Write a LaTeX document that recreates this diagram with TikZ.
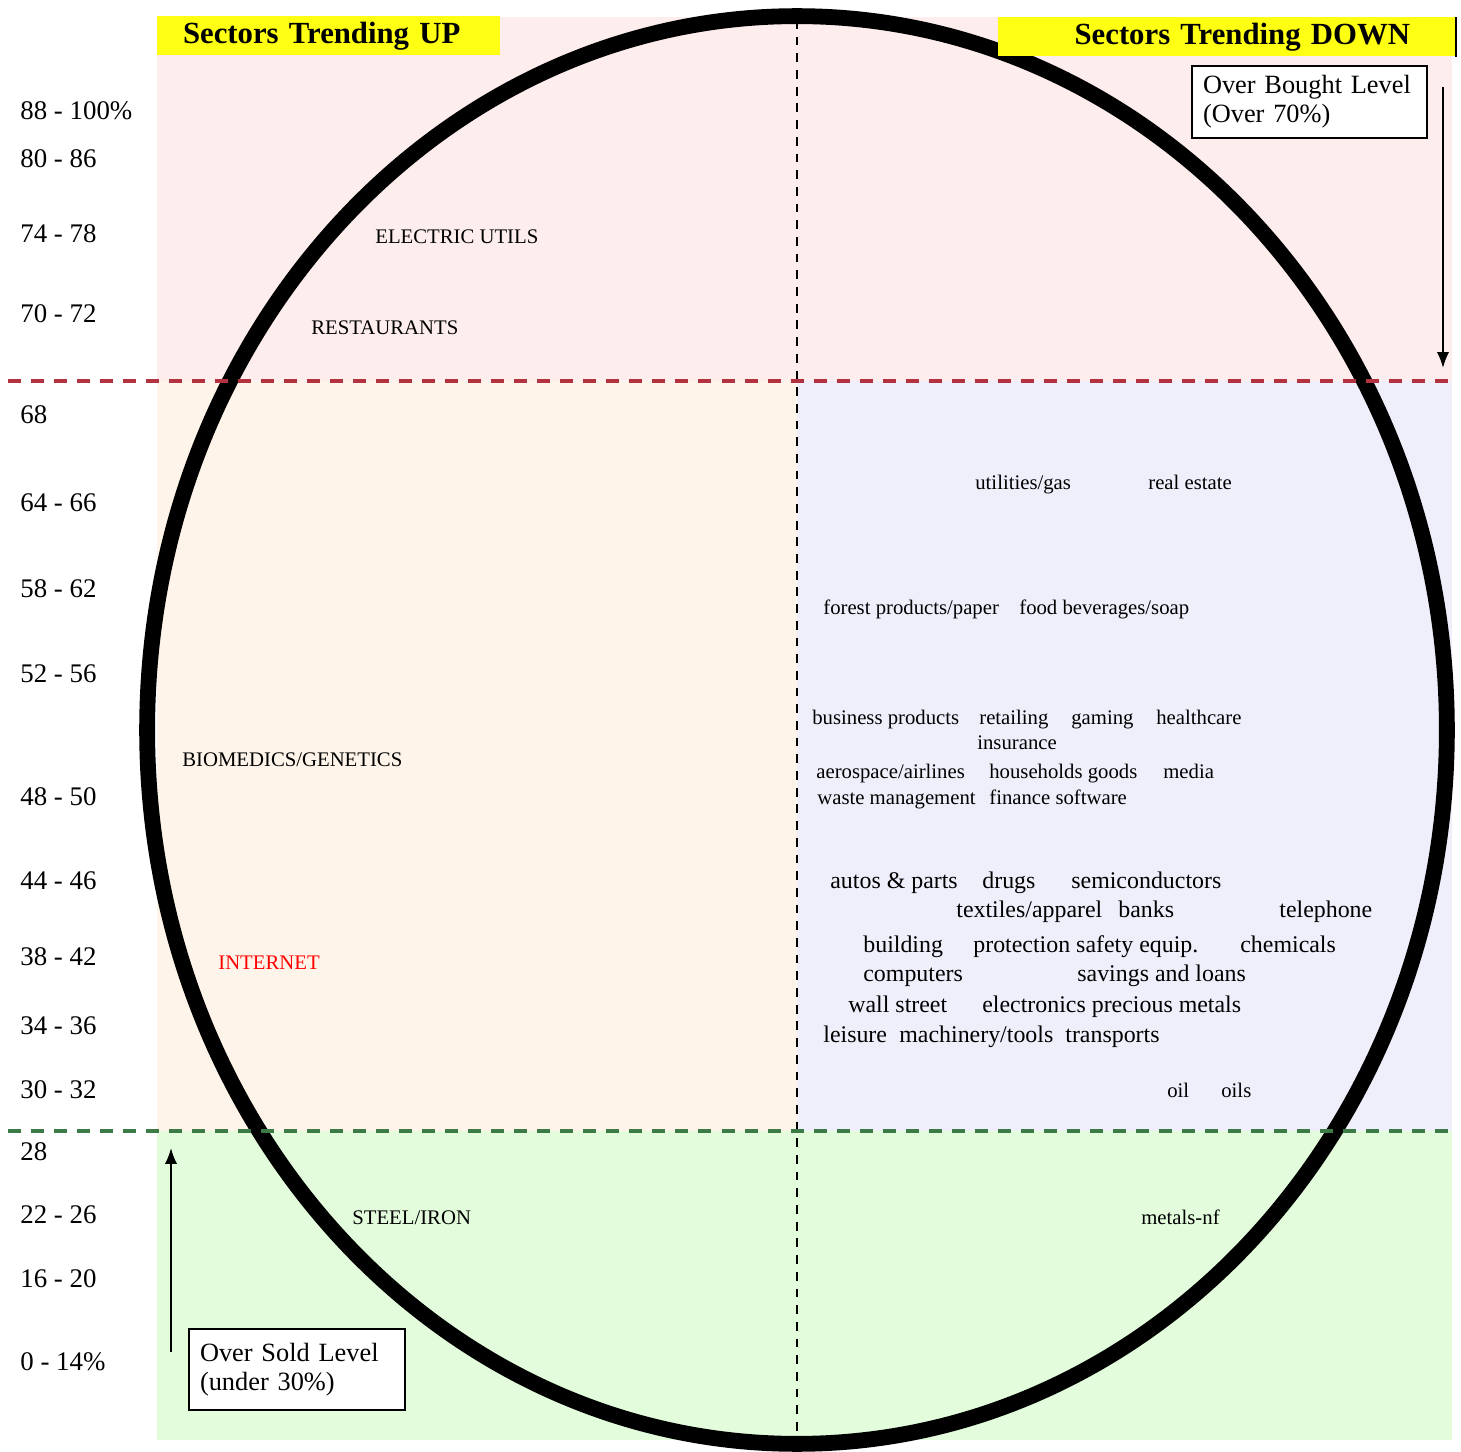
\documentclass[tikz,border=0pt]{standalone}
\usepackage{fontspec}
\setmainfont{Liberation Serif}
\usetikzlibrary{arrows.meta}
\usepackage{xcolor}
\definecolor{TopPink}{HTML}{FDEDED}
\definecolor{MidPeach}{HTML}{FEF4E9}
\definecolor{MidLav}{HTML}{EFEFFC}
\definecolor{LowGreen}{HTML}{E2FCDC}
\definecolor{HdrYellow}{HTML}{FFFF14}
\definecolor{DashRed}{HTML}{B2323F}
\definecolor{DashGreen}{HTML}{3D7B46}

\begin{document}
\begin{tikzpicture}[
  x=0.02cm, y=-0.02cm,
  lvl/.style={anchor=mid west, inner sep=0pt, yshift=-0.09cm, font=\fontsize{15.3}{18}\selectfont},
  sect/.style={anchor=mid west, inner sep=0pt, yshift=-0.08cm, font=\fontsize{11.8}{14}\selectfont},
  sectbig/.style={anchor=mid west, inner sep=0pt, yshift=-0.08cm, font=\fontsize{13.6}{16}\selectfont},
  hdr/.style={fill=HdrYellow, minimum height=0.78cm, inner sep=0pt,
              font=\fontsize{17.5}{20}\selectfont\bfseries},
  note/.style={draw, line width=1.1pt, fill=white, align=left, inner xsep=0.22cm,
               font=\fontsize{15}{16.5}\selectfont},
  lvlarrow/.style={line width=1.1pt, -{Latex[length=9pt,width=7pt]}},
  zoneline/.style={line width=2.3pt, dash pattern=on 7.4pt off 5.7pt}
]
  \useasboundingbox (0,0) rectangle (1461,1452);

  % zones
  \fill[TopPink]  (157,17)   rectangle (1452,381);
  \fill[MidPeach] (157,381)  rectangle (797,1131);
  \fill[MidLav]   (797,381)  rectangle (1452,1131);
  \fill[LowGreen] (157,1131) rectangle (1452,1440);

  % cycle
  \draw[line width=9pt] (797,730) ellipse [x radius=13cm, y radius=14.28cm];

  % level lines
  \draw[line width=1.6pt, dash pattern=on 5pt off 4.5pt] (797,20) -- (797,1452);
  \draw[DashRed, zoneline]   (8,381)  -- (1452,381);
  \draw[DashGreen, zoneline] (8,1131) -- (1452,1131);

  % headers
  \node[hdr, minimum width=6.86cm, text width=5.82cm, align=left] (hdrup) at (328.5,36) {Sectors Trending UP};
  \node[hdr, minimum width=9.16cm, text width=7.32cm, align=right] (hdrdown) at (1227,37) {Sectors Trending DOWN};
  \draw[line width=1pt] (hdrdown.north east) -- (hdrdown.south east);

  % level notes
  \node[note, text width=4.26cm, minimum height=1.44cm] (overbought) at (1309.5,102) {Over Bought Level\\(Over 70\%)};
  \node[note, text width=3.88cm, minimum height=1.62cm] (oversold) at (297,1369.5) {Over Sold Level\\(under 30\%)};
  \coordinate (obtop) at (1443,87);
  \coordinate (obend) at (1443,368);
  \coordinate (osstart) at (171,1352);
  \coordinate (osend) at (171,1148);
  \draw[lvlarrow] (obtop) -- (obend);
  \draw[lvlarrow] (osstart) -- (osend);

  % percentage scale
  \node[lvl] (p88) at (20,111)  {88 - 100\%};
  \node[lvl] (p80) at (20,159)  {80 - 86};
  \node[lvl] (p74) at (20,234)  {74 - 78};
  \node[lvl] (p70) at (20,314)  {70 - 72};
  \node[lvl] (p68) at (20,415)  {68};
  \node[lvl] (p64) at (20,503)  {64 - 66};
  \node[lvl] (p58) at (20,589)  {58 - 62};
  \node[lvl] (p52) at (20,674)  {52 - 56};
  \node[lvl] (p48) at (20,797)  {48 - 50};
  \node[lvl] (p44) at (20,881)  {44 - 46};
  \node[lvl] (p38) at (20,957)  {38 - 42};
  \node[lvl] (p34) at (20,1026) {34 - 36};
  \node[lvl] (p30) at (20,1090) {30 - 32};
  \node[lvl] (p28) at (20,1152) {28};
  \node[lvl] (p22) at (20,1215) {22 - 26};
  \node[lvl] (p16) at (20,1279) {16 - 20};
  \node[lvl] (p0)  at (20,1362) {0 - 14\%};

  % trending up
  \node[sect] (elec)    at (375,235)  {ELECTRIC UTILS};
  \node[sect] (rest)    at (311,326)  {RESTAURANTS};
  \node[sect] (biomed)  at (182,758)  {BIOMEDICS/GENETICS};
  \node[sect, text=red] (inet) at (218,961) {INTERNET};
  \node[sect] (steel)   at (352,1216) {STEEL/IRON};

  % trending down
  \node[sect] (utilgas) at (975,481)  {utilities/gas};
  \node[sect] (realest) at (1148,481) {real estate};
  \node[sect] (forest)  at (823,606)  {forest products/paper};
  \node[sect] (food)    at (1019,606) {food beverages/soap};
  \node[sect] (busprod) at (812,716)  {business products};
  \node[sect] (retail)  at (979,716)  {retailing};
  \node[sect] (gaming)  at (1071,716) {gaming};
  \node[sect] (health)  at (1156,716) {healthcare};
  \node[sect] (insur)   at (977,741)  {insurance};
  \node[sect] (aero)    at (816,770)  {aerospace/airlines};
  \node[sect] (house)   at (989,770)  {households goods};
  \node[sect] (media)   at (1163,770) {media};
  \node[sect] (waste)   at (817,796)  {waste management};
  \node[sect] (finsoft) at (989,796)  {finance software};
  \node[sectbig] (autos)  at (830,880)  {autos \& parts};
  \node[sectbig] (drugs)  at (982,880)  {drugs};
  \node[sectbig] (semi)   at (1071,880) {semiconductors};
  \node[sectbig] (textil) at (956,909)  {textiles/apparel};
  \node[sectbig] (banks)  at (1118,909) {banks};
  \node[sectbig] (tele)   at (1279,909) {telephone};
  \node[sectbig] (build)  at (863,944)  {building};
  \node[sectbig] (protect) at (973,944) {protection safety equip.};
  \node[sectbig] (chem)   at (1240,944) {chemicals};
  \node[sectbig] (comp)   at (863,973)  {computers};
  \node[sectbig] (savings) at (1077,973) {savings and loans};
  \node[sectbig] (wallst) at (848,1004) {wall street};
  \node[sectbig] (electr) at (982,1004) {electronics precious metals};
  \node[sectbig] (leisure) at (823,1034) {leisure};
  \node[sectbig] (machin) at (899,1034) {machinery/tools};
  \node[sectbig] (transp) at (1065,1034) {transports};
  \node[sect] (oil)     at (1167,1089) {oil};
  \node[sect] (oils)    at (1221,1089) {oils};
  \node[sect] (metals)  at (1141,1216) {metals-nf};
\end{tikzpicture}
\end{document}
